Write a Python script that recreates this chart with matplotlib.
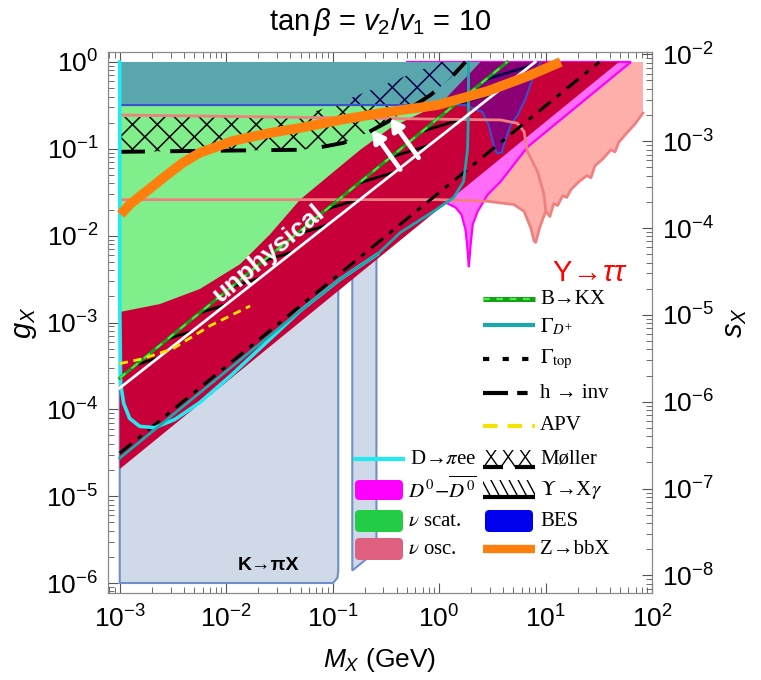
import numpy as np
import matplotlib
matplotlib.use("Agg")
import matplotlib.pyplot as plt
from matplotlib.patches import Polygon, FancyBboxPatch, Rectangle
from matplotlib.collections import LineCollection
from matplotlib.ticker import FixedLocator, LogLocator, NullFormatter, LogFormatterMathtext

plt.rcParams['font.family'] = ['Liberation Sans', 'DejaVu Sans']
plt.rcParams['mathtext.fontset'] = 'custom'
plt.rcParams['mathtext.rm'] = 'Liberation Sans'
plt.rcParams['mathtext.it'] = 'Liberation Sans:italic'
plt.rcParams['mathtext.bf'] = 'Liberation Sans:bold'

# ---------------- data (M_X in GeV, g_X) ----------------
x_ticks = [1e-3, 1e-2, 1e-1, 1e0, 1e1, 1e2]
g_ticks = [1e-6, 1e-5, 1e-4, 1e-3, 1e-2, 1e-1, 1e0]
s_ticks = [1e-8, 1e-7, 1e-6, 1e-5, 1e-4, 1e-3, 1e-2]

red_edge_M = [1e-3, 48.9]
red_edge_g = [2.05e-5, 1.0]

white_M = [1e-3, 8.0]
white_g = [1.76e-4, 1.0]

hinv_M = [1e-3, 32.0]
hinv_g = [3.13e-5, 1.0]

nuscat_M = [1e-3, 2.38e-3, 5.66e-3, 0.0135, 0.0258, 0.0495, 0.0949, 0.182, 0.349, 0.538, 1.03, 2.45]
nuscat_g = [1.32e-3, 1.63e-3, 2.43e-3, 4.69e-3, 0.01035, 0.026, 0.0504, 0.0975, 0.174, 0.226, 0.328, 1.0]

bes_M = [1e-3, 1.77, 2.56, 2.92, 3.25, 3.47, 3.87, 4.13, 4.70, 5.47, 6.51, 7.75, 9.01]
bes_g = [0.319, 0.319, 0.265, 0.188, 0.111, 0.090, 0.090, 0.120, 0.188, 0.245, 0.384, 0.703, 1.0]

kpi_M = [1e-3, 0.101, 0.111, 0.113, 0.113, 1e-3]
kpi_g = [1e-6, 1e-6, 1.15e-6, 1.4e-6, 5.6e-3, 5.6e-3]
kpi2_M = [0.153, 0.258, 0.258, 0.153]
kpi2_g = [1.39e-6, 2.35e-6, 5.6e-3, 5.6e-3]

d0_M = [0.5, 0.83, 1.15, 1.43, 1.62, 1.77, 1.85, 1.90, 1.98, 2.07, 2.30, 2.86, 3.78, 6.79, 63.4]
d0_g = [0.027, 0.026, 0.0241, 0.0211, 0.01754, 0.0118, 6.97e-3, 4.34e-3, 7.94e-3, 0.01346, 0.01897,
        0.0297, 0.0419, 0.1054, 1.0]

ytt_low_M = [1e-3, 1.0, 2.84, 5.05, 6.28, 7.26, 7.80, 8.09, 8.81, 10.05, 10.97, 11.95, 13.0, 14.5, 15.8, 17.3,
             20.6, 24.4, 26.7, 29.1, 34.6, 41.1, 44.9, 48.9, 58.2, 69.2, 82.2]
ytt_low_g = [0.026, 0.026, 0.0249, 0.0228, 0.0191, 0.01235, 8.67e-3, 8.38e-3, 0.01245, 0.0191, 0.01663, 0.02344,
             0.02223, 0.02897, 0.0275, 0.0339, 0.0419, 0.0491, 0.0465, 0.0638, 0.0768, 0.0975, 0.0924, 0.120,
             0.153, 0.193, 0.258]
ytt_up_M = [1e-3, 3.78, 5.43, 6.28, 6.76, 8.40, 9.68, 10.05]
ytt_up_g = [0.245, 0.215, 0.197, 0.158, 0.0931, 0.055, 0.0297, 0.0191]

moller_up_M = [1e-3, 0.0495, 0.101, 0.299, 1.03]
moller_up_g = [0.232, 0.235, 0.319, 0.541, 1.0]
moller_lo_M = [1e-3, 0.0495, 0.0716, 0.126, 0.212, 0.327, 0.538, 0.830, 1.28, 1.77]
moller_lo_g = [0.0924, 0.0975, 0.1026, 0.117, 0.153, 0.204, 0.295, 0.416, 0.652, 1.0]

upsxg_M = [1e-3, 8.0, 4.37, 1e-3]
upsxg_g = [1.76e-4, 1.0, 1.0, 2.29e-4]

bkx_M = [1e-3, 4.37]
bkx_g = [2.29e-4, 1.0]

gdp_M = [1e-3, 0.0495, 0.118, 0.263, 0.434, 0.885, 1.37, 1.70, 1.85, 1.89, 1.89]
gdp_g = [2.74e-5, 1.36e-3, 3.16e-3, 6.1e-3, 0.0109, 0.019, 0.0275, 0.0419, 0.0975, 0.280, 1.0]

dpiee_M = [1e-3, 1e-3, 1.02e-3, 1.09e-3, 1.24e-3, 1.54e-3, 2.14e-3, 3.3e-3, 5.66e-3, 0.0116, 0.0495, 0.118, 0.263]
dpiee_g = [1.0, 1.86e-3, 1.98e-4, 1.17e-4, 7.87e-5, 6.37e-5, 6.15e-5, 7.66e-5, 1.2e-4, 2.58e-4, 1.36e-3, 3.16e-3, 6.1e-3]

apv_M = [1e-3, 1.65e-3, 3.16e-3, 7.03e-3, 0.0168]
apv_g = [3.36e-4, 3.83e-4, 4.99e-4, 9.15e-4, 1.55e-3]

zbb_M = [1.02e-3, 1.24e-3, 1.54e-3, 1.92e-3, 2.65e-3, 3.92e-3, 5.66e-3, 0.0116, 0.0258, 0.0495, 0.118, 0.281,
         0.966, 2.86, 6.79, 13.9]
zbb_g = [0.01754, 0.0228, 0.0282, 0.0348, 0.0478, 0.0692, 0.090, 0.1236, 0.1525, 0.174, 0.215, 0.258,
         0.319, 0.462, 0.686, 1.0]

S_OVER_G = 10 ** -2.088

# ---------------- figure ----------------
fig = plt.figure(figsize=(7.61, 6.80), dpi=100)
AX_L, AX_B, AX_W, AX_H = 108, 87, 544, 541
ax = fig.add_axes([AX_L / 761, AX_B / 680, AX_W / 761, AX_H / 680])
ax.set_xscale('log')
ax.set_yscale('log')
XLIM = (10 ** -3.11, 100.0)
YLIM = (10 ** -6.115, 10 ** 0.115)


def poly(M, g, **kw):
    p = Polygon(np.column_stack([M, g]), closed=True, **kw)
    ax.add_patch(p)
    return p


# Upsilon -> tau tau (pink)
poly(ytt_low_M + [82.2, 1e-3], ytt_low_g + [1.0, 1.0], facecolor='#ffafaa', edgecolor='none', zorder=1)

# D0 - D0bar (magenta)
poly(d0_M + [0.5], d0_g + [1.0], facecolor='#ff6cf8', edgecolor='#ff00ff', lw=1.6, zorder=2)

# K -> pi X (grey-blue)
poly(kpi_M, kpi_g, facecolor='#cfd9e8', edgecolor='#6f8fc8', lw=1.5, zorder=3)
poly(kpi2_M, kpi2_g, facecolor='#cfd9e8', edgecolor='#6f8fc8', lw=1.5, zorder=3)

# red band
poly(red_edge_M + [1e-3], red_edge_g + [1.0], facecolor='#c8003a', edgecolor='none', zorder=4)

# nu scattering (green)
poly(nuscat_M + [1e-3], nuscat_g + [1.0], facecolor='#80ee8a', edgecolor='none', zorder=5)


def clip_hatch(patch, angles, spacing, color, lw, zorder, W=AX_W, H=AX_H):
    segs = []
    L = 2.0 * max(W, H)
    for a in angles:
        t = np.deg2rad(a)
        d = np.array([np.cos(t), np.sin(t)])
        n = np.array([-np.sin(t), np.cos(t)])
        c = np.array([W / 2, H / 2])
        k = int(L / spacing) + 2
        for i in range(-k, k + 1):
            p0 = c + n * i * spacing - d * L
            p1 = c + n * i * spacing + d * L
            segs.append([(p0[0] / W, p0[1] / H), (p1[0] / W, p1[1] / H)])
    lc = LineCollection(segs, colors=color, linewidths=lw, transform=ax.transAxes, zorder=zorder)
    ax.add_collection(lc, autolim=False)
    lc.set_clip_path(patch)
    return lc


# Moller crosshatch
mp = poly(moller_up_M + [1.77] + moller_lo_M[::-1], moller_up_g + [1.0] + moller_lo_g[::-1],
          facecolor='none', edgecolor='none', zorder=6)
clip_hatch(mp, [45, 135], 17.5, 'black', 1.1, 6)

# Upsilon -> X gamma hatch
up = poly(upsxg_M, upsxg_g, facecolor='none', edgecolor='none', zorder=6)
clip_hatch(up, [17], 15.5, 'black', 2.0, 6)

# BES (translucent blue)
poly(bes_M + [1e-3], bes_g + [1.0], facecolor=(0, 0, 1, 0.3), edgecolor='none', zorder=7)
ax.plot(bes_M, bes_g, color='#3a4fd0', lw=1.5, zorder=7.5)

# lines
ax.plot(ytt_low_M, ytt_low_g, color='#f08080', lw=2.0, zorder=8)
ax.plot(ytt_up_M, ytt_up_g, color='#f08080', lw=2.0, zorder=8)
ax.plot(moller_lo_M, moller_lo_g, color='black', lw=2.8, dashes=(6.5, 6.5), zorder=8)
ax.plot(hinv_M, hinv_g, color='black', lw=2.2, dashes=(5, 2.6, 1.6, 2.6), zorder=8)
ax.plot(dpiee_M, dpiee_g, color='#22eaf0', lw=2.6, zorder=8.2)
ax.plot(gdp_M, gdp_g, color='#1aa7ad', lw=2.0, zorder=8.3)
ax.plot(white_M, white_g, color='white', lw=2.0, zorder=8.4)
ax.plot(bkx_M, bkx_g, color='#14a014', lw=2.2, zorder=8.5)
ax.plot(bkx_M, bkx_g, color='#44f044', lw=1.4, dashes=(4, 4), zorder=8.6)
ax.plot(apv_M, apv_g, color='#f2e400', lw=2.0, dashes=(3, 2), zorder=8.7)
ax.plot(zbb_M, zbb_g, color='#ff7f0e', lw=7.0, solid_capstyle='butt', zorder=9)

# annotations
ax.text(0.0248, 6.3e-3, 'unphysical', color='white', fontsize=19, fontweight='bold',
        rotation=40, ha='center', va='center', zorder=10, rotation_mode='anchor')
for (am, ag) in [(0.234, 0.165), (0.348, 0.225)]:
    ax.annotate('', xy=(am, ag), xycoords='data', xytext=(20.4, -28.5), textcoords='offset points',
                arrowprops=dict(arrowstyle='-|>,head_length=0.7,head_width=0.4', color='white', lw=3.4,
                                shrinkA=0, shrinkB=0),
                zorder=10)
ax.text(0.0248, 1.58e-6, 'K→πX', fontsize=14, fontweight='bold', ha='center', va='center', zorder=10)
ax.text(26.0, 3.75e-3, r'$\Upsilon\!\rightarrow\!\tau\tau$', color='#ff0000', fontsize=21,
        ha='center', va='center', zorder=10)

ax.set_xlim(*XLIM)
ax.set_ylim(*YLIM)
ax.xaxis.set_major_locator(FixedLocator(x_ticks))
ax.yaxis.set_major_locator(FixedLocator(g_ticks))
ax.xaxis.set_major_formatter(LogFormatterMathtext())
ax.yaxis.set_major_formatter(LogFormatterMathtext())
ax.xaxis.set_minor_locator(LogLocator(base=10, subs=np.arange(2, 10), numticks=20))
ax.yaxis.set_minor_locator(LogLocator(base=10, subs=np.arange(2, 10), numticks=20))
ax.xaxis.set_minor_formatter(NullFormatter())
ax.yaxis.set_minor_formatter(NullFormatter())

# ---------------- axes styling ----------------
for s in ax.spines.values():
    s.set_color('#8a8a8a')
    s.set_linewidth(0.9)
ax.tick_params(which='both', direction='in', color='#555555', top=True, right=False, labelsize=19)
ax.tick_params(which='major', length=7, width=0.8)
ax.tick_params(which='minor', length=4, width=0.6)
ax.tick_params(axis='y', pad=7)
ax.tick_params(axis='x', pad=9)

ax2 = ax.twinx()
ax2.set_yscale('log')
ax2.set_ylim(YLIM[0] * S_OVER_G, YLIM[1] * S_OVER_G)
ax2.yaxis.set_major_locator(FixedLocator(s_ticks))
ax2.yaxis.set_major_formatter(LogFormatterMathtext())
ax2.yaxis.set_minor_locator(LogLocator(base=10, subs=np.arange(2, 10), numticks=20))
ax2.yaxis.set_minor_formatter(NullFormatter())
ax2.tick_params(axis='x', which='both', bottom=False, top=False, labelbottom=False, labeltop=False)
for s in ax2.spines.values():
    s.set_visible(False)
ax2.tick_params(axis='y', which='both', direction='in', color='#555555', labelsize=19, pad=7)
ax2.tick_params(axis='y', which='major', length=7, width=0.8)
ax2.tick_params(axis='y', which='minor', length=4, width=0.6)

ax.set_xlabel(r'$M_X$ (GeV)', fontsize=19)
ax.xaxis.set_label_coords(0.5, -0.123)
ax.xaxis.label.set_va('center')
ax.set_ylabel(r'$g_X$', fontsize=21)
ax.yaxis.set_label_coords(-0.152, 0.5)
ax.yaxis.label.set_va('center')
ax2.set_ylabel(r'$s_X$', fontsize=21)
ax2.yaxis.set_label_coords(1.153, 0.5)
ax2.yaxis.label.set_va('center')

fig.text(380 / 761, 1 - 22 / 680, r'$\tan\beta$ = $v_2/v_1$ = 10', fontsize=21, ha='center', va='center')

# ---------------- legend (drawn in axes fraction) ----------------
def fx(px):
    return (px - AX_L) / AX_W


def fy(py):
    return (593 - py) / AX_H


LEG_FS = 15
serif = dict(family=['Liberation Serif', 'DejaVu Serif'], fontsize=LEG_FS, va='center',
             transform=ax.transAxes, zorder=20, math_fontfamily='stix')


def leg_line(x0, x1, y, **kw):
    ax.plot([fx(x0), fx(x1)], [fy(y), fy(y)], transform=ax.transAxes, clip_on=False, zorder=20,
            solid_capstyle='butt', dash_capstyle='butt', **kw)


def leg_box(x0, x1, y0, y1, color):
    b = FancyBboxPatch((fx(x0), fy(y1)), fx(x1) - fx(x0), fy(y0) - fy(y1),
                       boxstyle='round,pad=0,rounding_size=0.008', transform=ax.transAxes,
                       facecolor=color, edgecolor='none', zorder=20)
    ax.add_patch(b)


RX0, RX1, RT = 483, 535, 540
leg_line(RX0, RX1, 299, color='#14a014', lw=3.6)
leg_line(RX0, RX1, 299, color='#44f044', lw=1.6, dashes=(3, 3))
ax.text(fx(RT), fy(299), 'B→KX', **serif)
leg_line(RX0, RX1, 325, color='#1aa7ad', lw=3.0)
ax.text(fx(RT), fy(327), r'$\Gamma_{D^{+}}$', **serif)
leg_line(RX0, RX1, 359, color='black', lw=3.0, dashes=(1.5, 3.2))
ax.text(fx(RT), fy(359), r'$\Gamma_{\mathrm{top}}$', **serif)
leg_line(RX0, RX1, 393, color='black', lw=3.0, dashes=(6, 2.2, 2.5, 2.2))
ax.text(fx(RT), fy(393), 'h → inv', **serif)
leg_line(RX0, RX1, 426, color='#f2e400', lw=3.0, dashes=(3.5, 2.4))
ax.text(fx(RT), fy(426), 'APV', **serif)

# Moller handle
rp = Rectangle((fx(RX0), fy(468)), fx(RX1) - fx(RX0), fy(450) - fy(468), transform=ax.transAxes,
               facecolor='none', edgecolor='none', zorder=20)
ax.add_patch(rp)
clip_hatch(rp, [55, 125], 14, 'black', 1.0, 20)
leg_line(483, 503, 467, color='black', lw=3.0)
leg_line(515, 535, 467, color='black', lw=3.0)
ax.text(fx(RT), fy(459), 'Møller', **serif)

# Upsilon -> X gamma handle
rp2 = Rectangle((fx(RX0), fy(498)), fx(RX1) - fx(RX0), fy(480) - fy(498), transform=ax.transAxes,
                facecolor='none', edgecolor='none', zorder=20)
ax.add_patch(rp2)
clip_hatch(rp2, [-62], 8, 'black', 1.0, 20)
leg_line(RX0, RX1, 497, color='black', lw=3.0)
ax.text(fx(RT), fy(490), r'$\Upsilon$→X$\gamma$', **serif)

leg_box(485, 533, 510, 532, '#0000ee')
ax.text(fx(RT), fy(521), 'BES', **serif)
leg_line(RX0, RX1, 549, color='#ff7f0e', lw=6.0)
ax.text(fx(RT), fy(549), 'Z→bbX', **serif)

# left column
leg_line(353, 405, 459, color='#22eaf0', lw=3.0)
ax.text(fx(410), fy(459), r'D→$\pi$ee', **serif)
leg_box(355, 403, 480, 500, '#ff00ff')
ax.text(fx(408), fy(490), r'$D^0\!-\!\overline{D^0}$', **serif)
leg_box(355, 403, 510, 532, '#22cc44')
ax.text(fx(408), fy(521), r'$\nu$ scat.', **serif)
leg_box(355, 403, 538, 560, '#e0607f')
ax.text(fx(408), fy(549), r'$\nu$ osc.', **serif)

fig.savefig('out.png', dpi=100)
